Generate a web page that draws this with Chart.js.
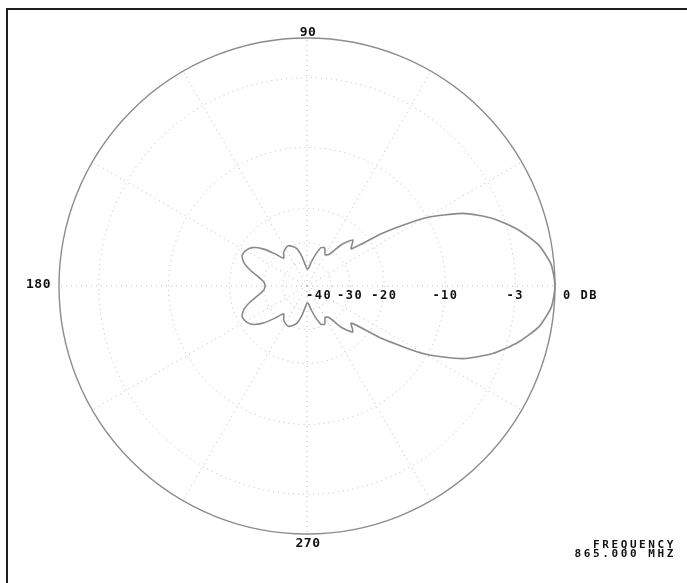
<!DOCTYPE html>
<html>
<head>
<meta charset="utf-8">
<script src="https://cdn.jsdelivr.net/npm/chart.js@4"></script>
<style>
  html, body { margin: 0; padding: 0; background: #fff; }
  canvas { display: block; }
</style>
</head>
<body>
<canvas id="polar-chart" width="687" height="583"></canvas>
<script>
// azimuth in degrees, counter clockwise, 0 = right
var angles = [0, 5, 10, 15, 20, 25, 30, 35, 40, 45, 50, 55, 60, 65, 70, 75, 80, 85,
  90, 95, 100, 105, 110, 115, 120, 125, 130, 135, 140, 145, 150, 155, 160, 165, 170, 175,
  180, 185, 190, 195, 200, 205, 210, 215, 220, 225, 230, 235, 240, 245, 250, 255, 260, 265,
  270, 275, 280, 285, 290, 295, 300, 305, 310, 315, 320, 325, 330, 335, 340, 345, 350, 355];

// relative gain, dB
var gainDb = [0, -0.2, -0.9, -2.2, -3.9, -6.3, -10.3, -17, -25, -23, -26, -32, -33, -30.5, -31, -35, -40, -45,
  -46, -42, -36, -32, -30.5, -29.5, -30, -31, -33, -29, -25, -22.5, -21.5, -21.3, -22.5, -25, -28, -30,
  -30.5, -30, -28, -25, -22.5, -21.3, -21.5, -22.5, -25, -29, -33, -31, -30, -29.5, -30.5, -32, -36, -42,
  -46, -45, -40, -35, -31, -30.5, -33, -32, -26, -23, -25, -17, -10.3, -6.3, -3.9, -2.2, -0.9, -0.2];

var ringDb = [-40, -30, -20, -10, -3, 0];
var ringLabels = ['-40', '-30', '-20', '-10', '-3', '0 DB'];
var axisAngles = [90, 180, 270];
var axisLabels = ['90', '180', '270'];
var freqLines = ['FREQUENCY', '865.000 MHZ'];

// ARRL style log scale
function dbToR(db) {
  return Math.pow(0.89, -db / 2);
}

// radar goes clockwise from the start angle, so walk the angles backwards
var n = angles.length;
var order = angles.map(function (a, i) { return (n - i) % n; });
var radarLabels = order.map(function (k) { return String(angles[k]); });
var radarData = order.map(function (k) { return dbToR(gainDb[k]); });

var FONT = '"DejaVu Sans Mono", "Liberation Mono", monospace';
var GRID = '#b8b8b8';
var LAST = ringDb.length;

var textPlugin = {
  id: 'polarText',
  beforeDraw: function (chart) {
    var ctx = chart.ctx;
    ctx.save();
    ctx.strokeStyle = '#1e1e1e';
    ctx.lineWidth = 2;
    ctx.beginPath();
    ctx.moveTo(7, 583);
    ctx.lineTo(7, 9);
    ctx.lineTo(687, 9);
    ctx.stroke();
    ctx.restore();
  },
  afterDraw: function (chart) {
    var ctx = chart.ctx;
    var r = chart.scales.r;
    ctx.save();
    ctx.fillStyle = '#111';

    // azimuth labels
    ctx.font = 'bold 13px ' + FONT;
    ctx.letterSpacing = '0.5px';
    ctx.textBaseline = 'middle';
    axisAngles.forEach(function (a, j) {
      var idx = order.indexOf(angles.indexOf(a));
      var p = r.getPointPositionForValue(idx, 1);
      if (a === 90) {
        ctx.textAlign = 'center';
        ctx.fillText(axisLabels[j], p.x + 1, p.y - 5);
      } else if (a === 180) {
        ctx.textAlign = 'right';
        ctx.fillText(axisLabels[j], p.x - 8, p.y - 1);
      } else {
        ctx.textAlign = 'center';
        ctx.fillText(axisLabels[j], p.x + 1, p.y + 10);
      }
    });

    // dB ring labels along the 0 degree axis
    ctx.font = 'bold 12px ' + FONT;
    ctx.letterSpacing = '1.5px';
    ringDb.forEach(function (d, i) {
      var x = r.xCenter + r.getDistanceFromCenterForValue(dbToR(d));
      var y = r.yCenter + 10;
      if (i === 0) {
        ctx.textAlign = 'right';
        ctx.fillText(ringLabels[i], x + 1, y);
      } else if (i === ringDb.length - 1) {
        ctx.textAlign = 'left';
        ctx.fillText(ringLabels[i], x + 8, y);
      } else {
        ctx.textAlign = 'center';
        ctx.fillText(ringLabels[i], x, y);
      }
    });

    // frequency note
    ctx.font = 'bold 11px ' + FONT;
    ctx.letterSpacing = '2.6px';
    ctx.textAlign = 'right';
    ctx.fillText(freqLines[0], 676, 545);
    ctx.fillText(freqLines[1], 676, 554);
    ctx.restore();
  }
};

var chart = new Chart(document.getElementById('polar-chart'), {
  type: 'radar',
  data: {
    labels: radarLabels,
    datasets: [{
      data: radarData,
      borderColor: '#8a8a8a',
      borderWidth: 1.6,
      pointRadius: 0,
      fill: false,
      tension: 0.2
    }]
  },
  options: {
    responsive: false,
    animation: false,
    layout: { padding: { left: 59, top: 38, right: 132, bottom: 49 } },
    plugins: { legend: { display: false }, tooltip: { enabled: false } },
    elements: { line: { borderJoinStyle: 'round' } },
    scales: {
      r: {
        min: 0,
        max: 1,
        startAngle: 90,
        afterBuildTicks: function (scale) {
          scale.ticks = [{ value: 0 }].concat(ringDb.map(function (d) { return { value: dbToR(d) }; }));
        },
        ticks: { display: false },
        pointLabels: { display: false },
        grid: {
          circular: true,
          color: function (c) { return c.index === LAST ? '#8c8c8c' : GRID; },
          lineWidth: function (c) { return c.index === LAST ? 1.4 : 1; }
        },
        border: {
          dash: function (c) { return c.index === LAST ? [] : [1, 4]; }
        },
        angleLines: {
          color: GRID,
          lineWidth: function (c) { return Number(c.label) % 30 === 0 ? 1 : 0; },
          borderDash: [1, 4]
        }
      }
    }
  },
  plugins: [textPlugin]
});
</script>
</body>
</html>
